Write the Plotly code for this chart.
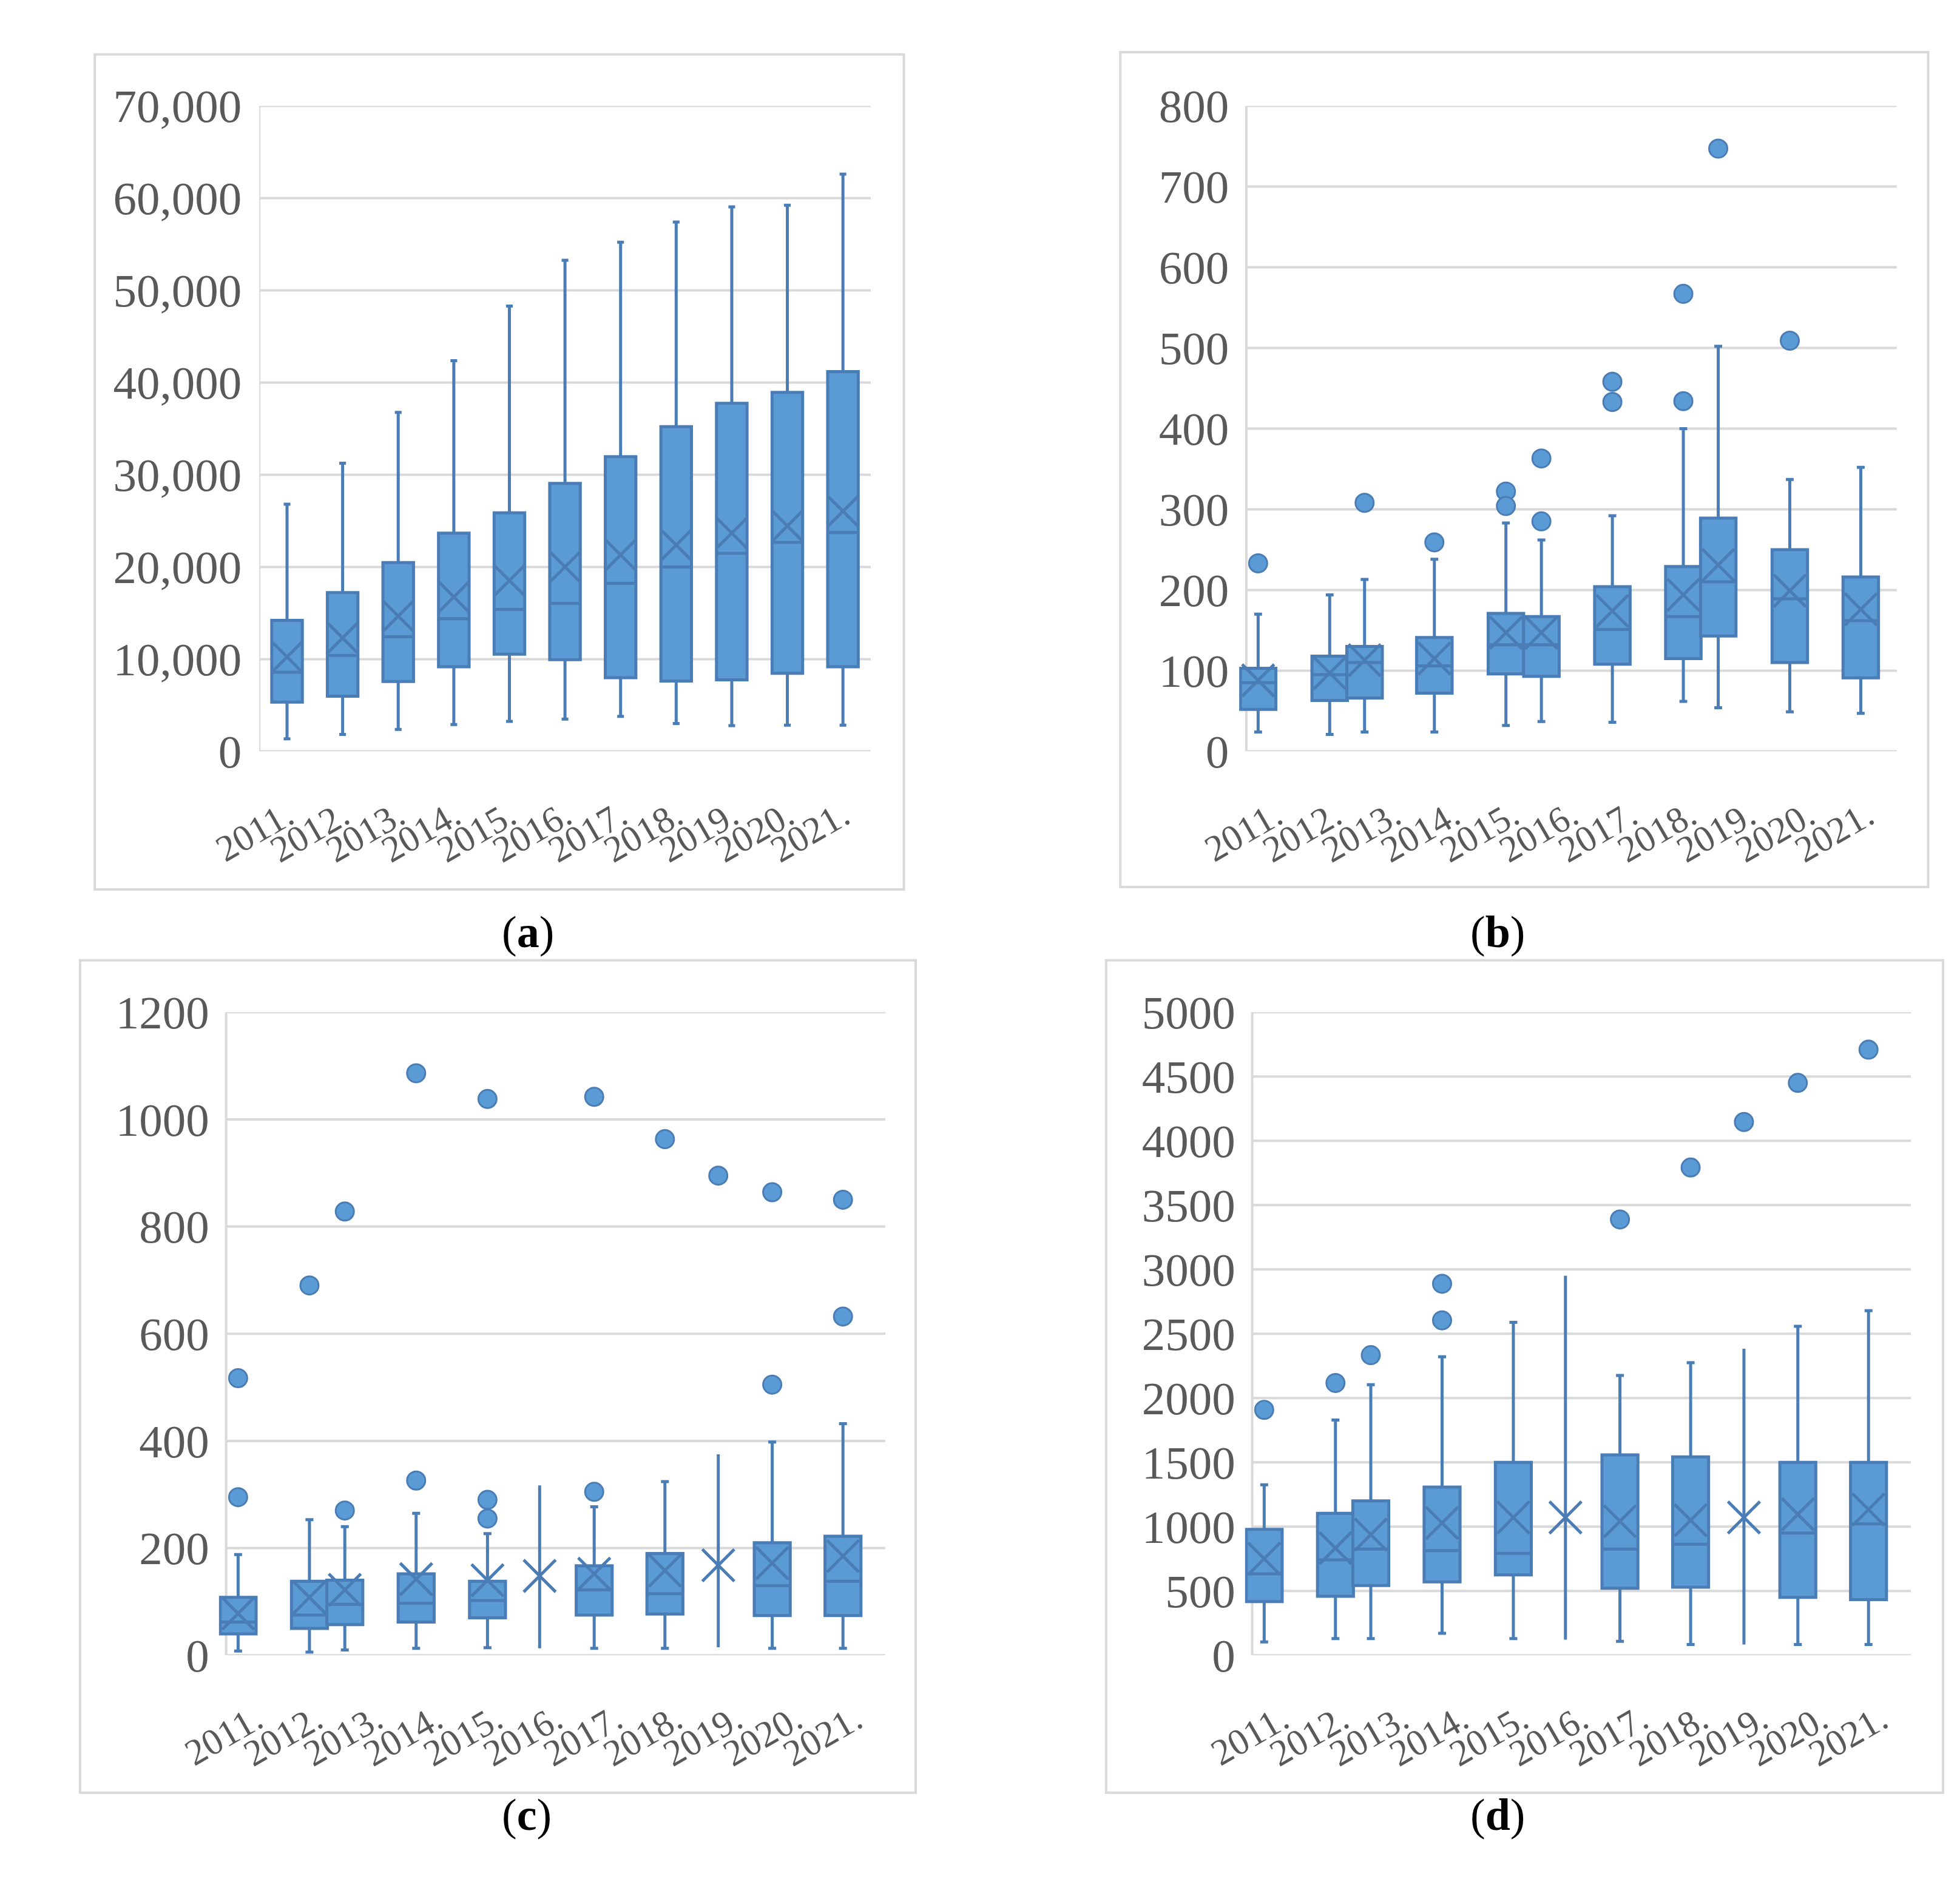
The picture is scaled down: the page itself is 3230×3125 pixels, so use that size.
import plotly.graph_objects as go

years = ["2011.", "2012.", "2013.", "2014.", "2015.", "2016.",
         "2017.", "2018.", "2019.", "2020.", "2021."]

# (a)
a_pos = [0.5, 1.5, 2.5, 3.5, 4.5, 5.5, 6.5, 7.5, 8.5, 9.5, 10.5]
a_low = [1360, 1830, 2370, 2900, 3250, 3490, 3790, 3020, 2780, 2840, 2840]
a_q1 = [5330, 5980, 7570, 9170, 10530, 9940, 7990, 7630, 7750, 8460, 9170]
a_med = [8580, 10410, 12430, 14380, 15380, 16040, 18220, 20000, 21480, 22660, 23730]
a_q3 = [14200, 17220, 20470, 23670, 25860, 29050, 31950, 35210, 37750, 38930, 41180]
a_high = [26800, 31240, 36750, 42370, 48280, 53250, 55210, 57400, 59050, 59230, 62600]
a_mean = [10240, 12300, 14670, 16750, 18520, 20000, 21300, 22370, 23670, 24440, 26040]
a_out = [[], [], [], [], [], [], [], [], [], [], []]

# (b)
b_pos = [0.2, 1.41, 2.0, 3.18, 4.39, 4.99, 6.19, 7.39, 7.98, 9.19, 10.39]
b_low = [24, 21, 24, 24, 32, 37, 36, 62, 54, 49, 47]
b_q1 = [52, 63, 66, 72, 96, 93, 108, 115, 143, 110, 91]
b_med = [85, 95, 110, 106, 132, 132, 151, 167, 210, 189, 162]
b_q3 = [103, 118, 130, 141, 171, 167, 204, 229, 289, 250, 216]
b_high = [170, 194, 213, 238, 283, 262, 292, 400, 502, 337, 352]
b_mean = [88, 97, 113, 115, 147, 147, 174, 194, 231, 199, 176]
b_out = [[233], [], [308], [259], [322, 304], [363, 285], [458, 433],
         [567, 434], [747], [509], []]

# (c)
c_pos = [0.2, 1.39, 1.98, 3.17, 4.36, 5.23, 6.14, 7.32, 8.21, 9.11, 10.29]
c_low = [8, 6, 10, 13, 14, 13, 13, 13, 15, 13, 13]
c_q1 = [40, 50, 57, 62, 70, None, 75, 77, None, 74, 74]
c_med = [62, 75, 95, 97, 102, None, 122, 115, None, 130, 138]
c_q3 = [108, 138, 140, 152, 138, None, 167, 190, None, 210, 222]
c_high = [188, 253, 240, 265, 227, 317, 277, 324, 375, 398, 432]
c_mean = [78, 108, 122, 142, 140, 148, 152, 158, 168, 172, 185]
c_out = [[517, 295], [690], [828, 270], [1086, 326], [1038, 290, 255], [],
         [1042, 305], [963], [895], [864, 505], [850, 632]]

# (d)
d_pos = [0.2, 1.39, 1.98, 3.17, 4.36, 5.23, 6.14, 7.32, 8.21, 9.11, 10.29]
d_low = [104, 129, 129, 171, 129, 121, 108, 83, 83, 83, 83]
d_q1 = [417, 458, 542, 571, 625, None, 521, 529, None, 450, 433]
d_med = [633, 742, 825, 813, 792, None, 825, 863, None, 950, 1021]
d_q3 = [979, 1104, 1200, 1308, 1500, None, 1558, 1542, None, 1500, 1500]
d_high = [1325, 1829, 2104, 2321, 2588, 2950, 2175, 2275, 2383, 2558, 2679]
d_mean = [750, 833, 938, 1029, 1071, 1071, 1042, 1050, 1071, 1096, 1133]
d_out = [[1908], [2117], [2333], [2888, 2604], [], [], [3388], [3792],
         [4146], [4450], [4708]]

FILL = "#5b9bd5"
EDGE = "#4a7db5"
GRID = "#d9d9d9"
TXT = "#595959"
SERIF = "Liberation Serif, Times New Roman, serif"

fig = go.Figure()


def add_panel(n, pos, low, q1, med, q3, high, mean, out, boxw):
    xa = "x" if n == 1 else "x%d" % n
    ya = "y" if n == 1 else "y%d" % n
    idx = [i for i in range(len(pos)) if q1[i] is not None]
    fig.add_trace(go.Box(
        x=[pos[i] for i in idx], q1=[q1[i] for i in idx],
        median=[med[i] for i in idx], q3=[q3[i] for i in idx],
        lowerfence=[low[i] for i in idx], upperfence=[high[i] for i in idx],
        width=boxw, whiskerwidth=0.22, fillcolor=FILL,
        line=dict(color=EDGE, width=5), boxpoints=False,
        xaxis=xa, yaxis=ya, showlegend=False))
    # years without a box: just the whisker line
    for i in range(len(pos)):
        if q1[i] is None:
            fig.add_trace(go.Scatter(
                x=[pos[i], pos[i]], y=[low[i], high[i]], mode="lines",
                line=dict(color=EDGE, width=5), xaxis=xa, yaxis=ya,
                showlegend=False))
    fig.add_trace(go.Scatter(
        x=pos, y=mean, mode="markers",
        marker=dict(symbol="x-thin", size=boxw * 88,
                    line=dict(color=EDGE, width=5)),
        xaxis=xa, yaxis=ya, showlegend=False))
    ox, oy = [], []
    for i, vals in enumerate(out):
        for v in vals:
            ox.append(pos[i])
            oy.append(v)
    if ox:
        fig.add_trace(go.Scatter(
            x=ox, y=oy, mode="markers",
            marker=dict(symbol="circle", size=30, color=FILL,
                        line=dict(color=EDGE, width=3)),
            xaxis=xa, yaxis=ya, showlegend=False, cliponaxis=False))


add_panel(1, a_pos, a_low, a_q1, a_med, a_q3, a_high, a_mean, a_out, 0.55)
add_panel(2, b_pos, b_low, b_q1, b_med, b_q3, b_high, b_mean, b_out, 0.6)
add_panel(3, c_pos, c_low, c_q1, c_med, c_q3, c_high, c_mean, c_out, 0.6)
add_panel(4, d_pos, d_low, d_q1, d_med, d_q3, d_high, d_mean, d_out, 0.6)

W, H = 3230, 3125
# plot areas in pixels: (x0, x1, ytop, ybottom), x0 = position of the value axis
areas = [(346, 1380, 128, 1222), (2015, 3115, 128, 1222),
         (290, 1405, 1664, 2754), (2025, 3139, 1664, 2754)]
yranges = [(0, 70000, 10000, ","), (0, 800, 100, ""),
           (0, 1200, 200, ""), (0, 5000, 500, "")]
xleft = [0, -0.12, -0.12, -0.12]

for k in range(4):
    x0, x1, yt, yb = areas[k]
    sfx = "" if k == 0 else str(k + 1)
    unit = (x1 - x0) / 11.0
    dl = x0 + xleft[k] * unit
    fig.layout["xaxis" + sfx] = dict(
        domain=[dl / W, x1 / W], anchor="y" + sfx, range=[xleft[k], 11],
        tickvals=[i + 0.5 for i in range(11)], ticktext=years,
        tickangle=-30, showgrid=False, zeroline=False, showline=False,
        ticks="", ticklabelstandoff=58,
        tickfont=dict(family=SERIF, size=61, color=TXT))
    lo, hi, dt, fmt = yranges[k]
    fig.layout["yaxis" + sfx] = dict(
        domain=[1 - yb / H, 1 - yt / H], anchor="x" + sfx, range=[lo, hi],
        dtick=dt, tickformat=fmt, showgrid=False,
        zeroline=False, showline=False,
        ticks="", ticklabelstandoff=int(28 - (x0 - dl)),
        tickfont=dict(family=SERIF, size=77, color=TXT))
    xr = "x" + sfx
    yr = "y" + sfx
    v = lo
    while v <= hi:
        fig.add_shape(type="line", xref=xr, yref=yr, x0=0, x1=11, y0=v, y1=v,
                      line=dict(color=GRID, width=4), layer="below")
        v += dt
    fig.add_shape(type="line", xref=xr, yref=yr, x0=0, x1=0, y0=lo, y1=hi,
                  line=dict(color=GRID, width=4), layer="below")

# panel frames
frames = [(68, 1436, 41, 1456), (1802, 3168, 37, 1452),
          (43, 1456, 1576, 2987), (1778, 3193, 1576, 2987)]
for fx0, fx1, fy0, fy1 in frames:
    fig.add_shape(type="rect", xref="paper", yref="paper",
                  x0=fx0 / W, x1=fx1 / W, y0=1 - fy1 / H, y1=1 - fy0 / H,
                  line=dict(color=GRID, width=4), layer="below")

labels = ["a", "b", "c", "d"]
label_pos = [(754, 1528), (2488, 1528), (754, 3068), (2488, 3068)]
for lab, (lx, ly) in zip(labels, label_pos):
    fig.add_annotation(x=lx / W, y=1 - ly / H, xref="paper", yref="paper",
                       text="(<b>%s</b>)" % lab, showarrow=False,
                       font=dict(family=SERIF, size=74, color="black"))

fig.update_layout(width=W, height=H, margin=dict(l=0, r=0, t=0, b=0),
                  paper_bgcolor="white", plot_bgcolor="white")

fig.write_html("out.html")
